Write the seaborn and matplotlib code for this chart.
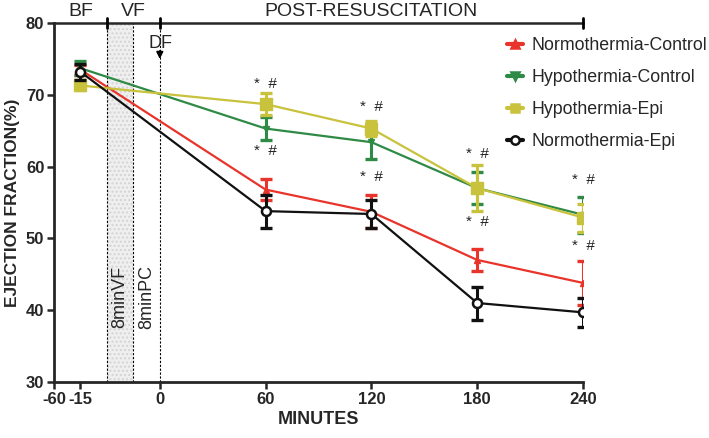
import matplotlib
matplotlib.use("Agg")
import matplotlib.pyplot as plt
from matplotlib.lines import Line2D
import matplotlib.font_manager as fm
import numpy as np
import pandas as pd
import seaborn as sns

# ---------------- data ----------------
time_labels = ["-15", "60", "120", "180", "240"]
time_pos = [-45, 60, 120, 180, 240]          # "-15" is drawn on a compressed pre-arrest segment
groups = ["Normothermia-Control", "Hypothermia-Control", "Hypothermia-Epi", "Normothermia-Epi"]
norm_ctrl = [73.5, 56.8, 53.7, 47.0, 43.8]
norm_ctrl_err = [0.7, 1.45, 2.3, 1.5, 3.1]
hypo_ctrl = [73.7, 65.3, 63.4, 57.0, 53.3]
hypo_ctrl_err = [1.0, 1.6, 2.3, 2.25, 2.5]
hypo_epi = [71.3, 68.7, 65.3, 57.0, 52.9]
hypo_epi_err = [0.7, 1.5, 1.0, 3.25, 1.95]
norm_epi = [73.2, 53.8, 53.4, 41.0, 39.7]
norm_epi_err = [1.1, 2.3, 2.0, 2.3, 2.0]
sig_times = [60, 120, 180, 240]
sig_above = [71.5, 68.3, 61.8, 58.1]
sig_below = [62.2, 58.6, 52.3, 49.0]
xtick_pos = [-60, -45, 0, 60, 120, 180, 240]
xtick_labels = ["-60", "-15", "0", "60", "120", "180", "240"]

values = [norm_ctrl, hypo_ctrl, hypo_epi, norm_epi]
errors = [norm_ctrl_err, hypo_ctrl_err, hypo_epi_err, norm_epi_err]
colors = {"Normothermia-Control": "#e8342a", "Hypothermia-Control": "#2f8a45",
          "Hypothermia-Epi": "#c9c23c", "Normothermia-Epi": "#111111"}
markers = {"Normothermia-Control": "^", "Hypothermia-Control": "v",
           "Hypothermia-Epi": "s", "Normothermia-Epi": "o"}

rows = []
for g, v in zip(groups, values):
    for t, y in zip(time_pos, v):
        rows.append({"group": g, "t": t, "ef": y})
df = pd.DataFrame(rows)

# ---------------- style ----------------
sns.set_style("ticks")
avail = {f.name for f in fm.fontManager.ttflist}
narrow = "Liberation Sans Narrow" if "Liberation Sans Narrow" in avail else "Liberation Sans"
plt.rcParams["font.family"] = ["Liberation Sans", "DejaVu Sans"]

fig = plt.figure(figsize=(7.09, 4.38), dpi=100)
ax = fig.add_axes([54 / 709, 1 - 382 / 438, (583 - 54) / 709, (382 - 23) / 438])

ax.set_xlim(-60, 240)
ax.set_ylim(30, 80)

# shaded VF region and dotted event lines
ax.axvspan(-30, -15, facecolor="#efefef", edgecolor="#d4d4d4", hatch="....", lw=0, zorder=0)
for xv in [-30, -15, 0]:
    ax.axvline(xv, color="black", lw=0.8, ls=(0, (2, 1.5)), zorder=1)

# lines + markers via seaborn
order = ["Normothermia-Control", "Hypothermia-Control", "Hypothermia-Epi", "Normothermia-Epi"]
for i, g in enumerate(order):
    sub = df[df.group == g]
    sns.lineplot(data=sub, x="t", y="ef", color=colors[g], lw=1.6, ax=ax,
                 zorder=3 + i, legend=False)
    k = groups.index(g)
    ax.errorbar(time_pos, values[k], yerr=errors[k], fmt="none", ecolor=colors[g],
                elinewidth=2.2, capsize=4, capthick=2.4, zorder=3 + i)
    if g == "Normothermia-Epi":
        ax.plot(time_pos, values[k], ls="none", marker="o", ms=6.5, mfc="white",
                mec=colors[g], mew=1.8, zorder=3 + i)
    elif g == "Hypothermia-Epi":
        ax.plot(time_pos, values[k], ls="none", marker="s", ms=8, mfc=colors[g],
                mec=colors[g], zorder=3 + i)
    else:
        ax.plot(time_pos, values[k], ls="none", marker=markers[g], ms=5, mfc=colors[g],
                mec=colors[g], zorder=3 + i)

# significance marks
for t, ya, yb in zip(sig_times, sig_above, sig_below):
    ax.text(t, ya, "*  #", ha="center", va="center", fontsize=11, color="#222222", zorder=10)
    ax.text(t, yb, "*  #", ha="center", va="center", fontsize=11, color="#222222", zorder=10)

# axes styling
for s in ["left", "bottom"]:
    ax.spines[s].set_linewidth(2)
ax.spines["top"].set_linewidth(1.8)
ax.spines["right"].set_visible(False)
ax.set_xticks(xtick_pos)
ax.set_xticklabels(xtick_labels)
ax.set_yticks([30, 40, 50, 60, 70, 80])
ax.tick_params(axis="both", direction="out", length=5, width=1.8, pad=2)
for lab in ax.get_xticklabels() + ax.get_yticklabels():
    lab.set_fontfamily(narrow)
    lab.set_fontweight("bold")
    lab.set_fontsize(12)
ax.set_xlabel("MINUTES", fontfamily=narrow, fontweight="bold", fontsize=13, labelpad=3)
ax.set_ylabel("EJECTION FRACTION(%)", fontweight="bold", fontsize=12.5, labelpad=4)

# top phase bracket
for xv in [-30, 0, 240]:
    ax.plot([xv, xv], [79.35, 80.65], color="black", lw=2, clip_on=False, zorder=10)
for xv, txt in [(-45, "BF"), (-15, "VF"), (120, "POST-RESUSCITATION")]:
    ax.text(xv, 81.65, txt, ha="center", va="center", fontsize=14, clip_on=False)

# DF arrow
ax.annotate("", xy=(0, 74.6), xytext=(0, 76.5),
            arrowprops=dict(arrowstyle="-|>", color="black", lw=1.2, mutation_scale=10))
ax.text(0.5, 77.2, "DF", ha="center", va="center", fontsize=13)

# rotated period labels
ax.text(-22.5, 41.8, "8minVF", rotation=90, ha="center", va="center", fontsize=13)
ax.text(-7.5, 41.8, "8minPC", rotation=90, ha="center", va="center", fontsize=13)

# legend
handles = [Line2D([0], [0], color=colors[g], lw=3, marker=markers[g], ms=6,
                  mfc=("white" if g == "Normothermia-Epi" else colors[g]), mec=colors[g], mew=1.8)
           for g in groups]
fig.legend(handles, groups, loc="upper left", bbox_to_anchor=(507 / 709, 1 - 37 / 438),
           frameon=False, fontsize=12.8, handlelength=0.9, handletextpad=0.5,
           labelspacing=0.85, borderpad=0, borderaxespad=0)

fig.savefig("out.png", dpi=100, facecolor="white")
